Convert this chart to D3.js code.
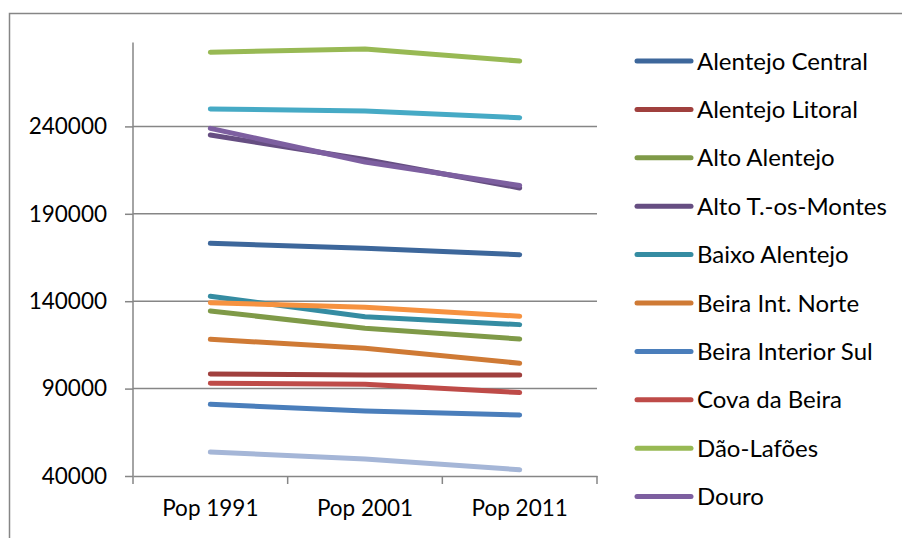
<!DOCTYPE html>
<html>
<head>
<meta charset="utf-8">
<script src="https://cdn.jsdelivr.net/npm/d3@7"></script>
<style>
  body { margin: 0; background: #fff; }
  svg { display: block; font-family: Lato, "Open Sans", sans-serif; }
</style>
</head>
<body>
<svg width="902" height="538"></svg>
<script>
var categories = ["Pop 1991", "Pop 2001", "Pop 2011"];
var regions = ["Alentejo Central", "Alentejo Litoral", "Alto Alentejo", "Alto T.-os-Montes",
    "Baixo Alentejo", "Beira Int. Norte", "Beira Interior Sul", "Cova da Beira",
    "Dão-Lafões", "Douro", "Minho-Lima", "Pinhal Interior Norte", "Serra da Estrela"];
var alentejoCentral = [173100, 170300, 166600];
var alentejoLitoral = [98400, 97800, 97800];
var altoAlentejo = [134400, 124500, 118400];
var altoTrasOsMontes = [235100, 221100, 204800];
var baixoAlentejo = [142800, 131100, 126600];
var beiraIntNorte = [118200, 113100, 104500];
var beiraInteriorSul = [81000, 77200, 74900];
var covaDaBeira = [93000, 92500, 87700];
var daoLafoes = [282400, 284300, 277400];
var douro = [238900, 219600, 206200];
var minhoLima = [250000, 248800, 245000];
var pinhalInteriorNorte = [139100, 136500, 131400];
var serraDaEstrela = [53700, 49700, 43600];
var yTicks = [40000, 90000, 140000, 190000, 240000];

var seriesValues = [alentejoCentral, alentejoLitoral, altoAlentejo, altoTrasOsMontes,
    baixoAlentejo, beiraIntNorte, beiraInteriorSul, covaDaBeira, daoLafoes, douro,
    minhoLima, pinhalInteriorNorte, serraDaEstrela];
var colors = ["#3d679b", "#a0403e", "#7f9a48", "#664e82", "#358ca2", "#cf7a35",
    "#4a7ebb", "#be4b48", "#98b954", "#7d5fa0", "#46aac5", "#f69240", "#a5b6d7"];

var svg = d3.select("svg");
var axisColor = "#868686";

// outer chart border (right and bottom edges fall outside the picture)
svg.append("rect")
    .attr("x", 9.5).attr("y", 13.5)
    .attr("width", 1000).attr("height", 1000)
    .attr("fill", "none")
    .attr("stroke", axisColor)
    .attr("stroke-width", 1.5);

var x = d3.scaleBand().domain(categories).range([133, 597]).padding(0);
var y = d3.scaleLinear().domain([40000, 288000]).range([476, 42.5]);

// gridlines
svg.append("g").selectAll("line")
    .data(yTicks.slice(1))
    .enter().append("line")
    .attr("x1", 133).attr("x2", 597)
    .attr("y1", d => y(d)).attr("y2", d => y(d))
    .attr("stroke", axisColor)
    .attr("stroke-width", 1.5);

var yAxis = svg.append("g")
    .attr("transform", "translate(133,0)")
    .call(d3.axisLeft(y).tickValues(yTicks).tickSize(8).tickPadding(18).tickFormat(d3.format("d")));
yAxis.select(".domain").attr("d", "M0," + y(40000) + "V" + y(288000));

var xAxis = svg.append("g")
    .attr("transform", "translate(0,476)")
    .call(d3.axisBottom(x).tickSize(0).tickPadding(24));
svg.append("g").selectAll("line")
    .data(d3.range(categories.length + 1))
    .enter().append("line")
    .attr("x1", d => 133 + d * x.bandwidth()).attr("x2", d => 133 + d * x.bandwidth())
    .attr("y1", 476).attr("y2", 484)
    .attr("stroke", axisColor)
    .attr("stroke-width", 1.5);

[yAxis, xAxis].forEach(function (a) {
    a.select(".domain").attr("stroke", axisColor).attr("stroke-width", 1.5);
    a.selectAll(".tick line").attr("stroke", axisColor).attr("stroke-width", 1.5);
    a.selectAll("text").attr("fill", "#000").style("font-size", "22.5px").style("font-family", "Lato, sans-serif");
});

// lines
var line = d3.line()
    .x((d, i) => x(categories[i]) + x.bandwidth() / 2)
    .y(d => y(d));

svg.append("g").selectAll("path")
    .data(seriesValues)
    .enter().append("path")
    .attr("d", line)
    .attr("fill", "none")
    .attr("stroke", (d, i) => colors[i])
    .attr("stroke-width", 5)
    .attr("stroke-linecap", "round")
    .attr("stroke-linejoin", "round");

// legend: only the first ten entries fit, as in the original
var legend = svg.append("g").attr("transform", "translate(637,61)");
regions.slice(0, 10).forEach((name, i) => {
    var row = legend.append("g").attr("transform", "translate(0," + (i * 48.4) + ")");
    row.append("line")
        .attr("x1", 0).attr("x2", 54)
        .attr("stroke", colors[i])
        .attr("stroke-width", 5)
        .attr("stroke-linecap", "round");
    row.append("text")
        .attr("x", 60)
        .attr("dy", "0.36em")
        .style("font-size", "24px")
        .text(name);
});
</script>
</body>
</html>
